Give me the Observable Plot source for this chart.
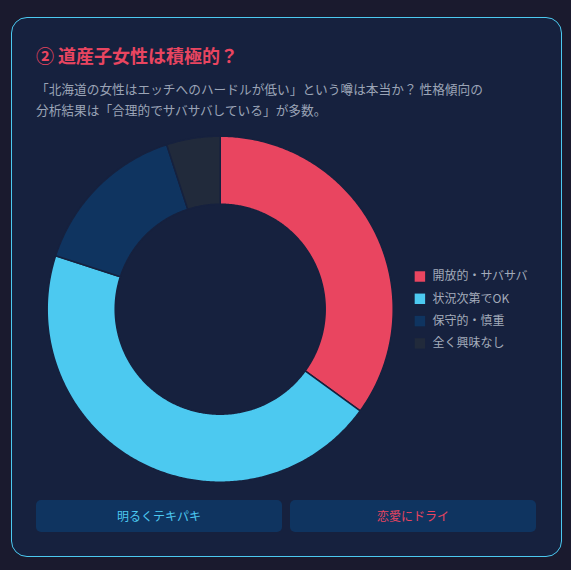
<!DOCTYPE html>
<html lang="ja">
<head>
<meta charset="utf-8">
<script src="https://cdn.jsdelivr.net/npm/d3@7"></script>
<script src="https://cdn.jsdelivr.net/npm/@observablehq/plot@0.6"></script>
<style>
  html, body { margin: 0; padding: 0; background: #1a1a2e; width: 571px; height: 570px; overflow: hidden; }
  body { font-family: "Noto Sans CJK JP", "Noto Sans", sans-serif; position: relative; }
  .card { position: absolute; left: 11px; top: 17px; width: 551px; height: 540px; box-sizing: border-box;
          background: #16213e; border: 1px solid #4cc9f0; border-radius: 16px; }
  .title { position: absolute; left: 36px; top: 46px; margin: 0; font-size: 18px; line-height: 18px; font-weight: 700; color: #e94560; white-space: nowrap; }
  .sub { position: absolute; left: 36px; top: 78px; margin: 0; font-size: 12.7px; line-height: 21px; color: #9ba4b6; white-space: nowrap; }
  #chart { position: absolute; left: 36px; top: 128px; }
  .btns { position: absolute; left: 36px; top: 500px; width: 500px; display: flex; gap: 8px; }
  .btn { flex: 1; height: 32px; border-radius: 5px; background: #0f3460; font-size: 12px; line-height: 32px; text-align: center; }
</style>
</head>
<body>
<div class="card"></div>
<h2 class="title" id="title"></h2>
<p class="sub" id="sub"></p>
<div id="chart"></div>
<div class="btns" id="btns"></div>
<script>
const title = "② 道産子女性は積極的？";
const subtitleLines = ["「北海道の女性はエッチへのハードルが低い」という噂は本当か？ 性格傾向の", "分析結果は「合理的でサバサバしている」が多数。"];
const labels = ["開放的・サバサバ", "状況次第でOK", "保守的・慎重", "全く興味なし"];
const values = [35, 45, 15, 5];
const colors = ["#e94560", "#4cc9f0", "#0f3460", "#212a3b"];
const buttonLabels = ["明るくテキパキ", "恋愛にドライ"];
const buttonColors = ["#4cc9f0", "#e94560"];

document.getElementById("title").textContent = title;
const sub = document.getElementById("sub");
subtitleLines.forEach((t, i) => { if (i) sub.appendChild(document.createElement("br")); sub.appendChild(document.createTextNode(t)); });
const btns = document.getElementById("btns");
buttonLabels.forEach((t, i) => { const b = document.createElement("div"); b.className = "btn"; b.style.color = buttonColors[i]; b.textContent = t; btns.appendChild(b); });

// layout
const W = 500, H = 364, cx = 183.7, cy = 180.7, R = 173, r = 105;
const arcs = d3.pie().sort(null).value(d => d)(values);
const poly = [];
arcs.forEach((a, i) => {
  const n = Math.max(8, Math.ceil((a.endAngle - a.startAngle) / 0.01));
  for (let k = 0; k <= n; k++) {
    const t = a.startAngle + (a.endAngle - a.startAngle) * k / n;
    poly.push({label: labels[i], x: R * Math.sin(t), y: R * Math.cos(t)});
  }
  for (let k = n; k >= 0; k--) {
    const t = a.startAngle + (a.endAngle - a.startAngle) * k / n;
    poly.push({label: labels[i], x: r * Math.sin(t), y: r * Math.cos(t)});
  }
});
const legendX = 199.7, legendTextX = 212.3, legendTop = 32.7, legendStep = 22.3;
const legend = labels.map((l, i) => ({label: l, x: legendX, tx: legendTextX, y: legendTop - i * legendStep}));

const chart = Plot.plot({
  width: W, height: H, margin: 0,
  style: {background: "transparent", overflow: "visible"},
  x: {domain: [-cx, W - cx], range: [0, W], axis: null},
  y: {domain: [-(H - cy), cy], range: [H, 0], axis: null},
  color: {domain: labels, range: colors},
  marks: [
    Plot.line(poly, {x: "x", y: "y", z: "label", fill: "label", stroke: "#16213e", strokeWidth: 1.5, curve: "linear-closed"}),
    Plot.dot(legend, {x: "x", y: "y", fill: "label", symbol: "square", r: 5.9, stroke: null}),
    Plot.text(legend, {x: "tx", y: "y", text: "label", textAnchor: "start", fill: "#a3abba", fontSize: 12, fontFamily: "Noto Sans CJK JP, sans-serif"})
  ]
});
document.getElementById("chart").appendChild(chart);
</script>
</body>
</html>
